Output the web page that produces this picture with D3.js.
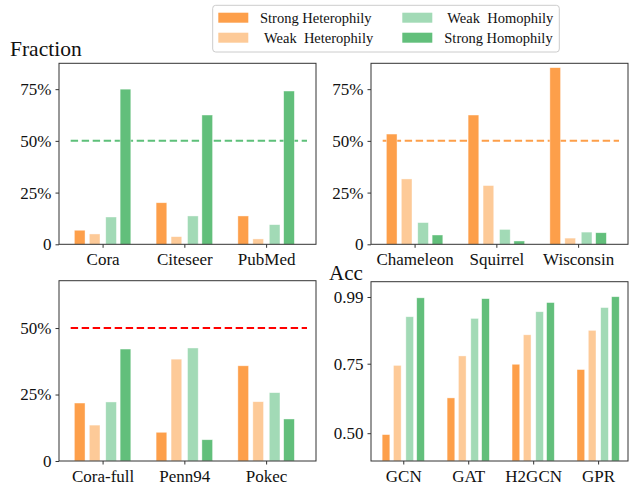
<!DOCTYPE html>
<html>
<head>
<meta charset="utf-8">
<script src="https://cdn.jsdelivr.net/npm/d3@7"></script>
<style>
  body { margin: 0; background: #fff; }
  svg { display: block; }
  text { font-family: "Liberation Serif", "Times New Roman", serif; fill: #111; }
</style>
</head>
<body>
<script>
var width = 629,
    height = 487;

// data (fractions / accuracies)
var series = ["Strong Heterophily", "Weak  Heterophily", "Weak  Homophily", "Strong Homophily"];
var colors = ["#fd9f4a", "#fdca98", "#a2dab6", "#62bf7b"];

var homoSets = ["Cora", "Citeseer", "PubMed"];
var homoVals = [
  [0.068, 0.050, 0.132, 0.750],
  [0.201, 0.037, 0.137, 0.625],
  [0.137, 0.026, 0.095, 0.741]
];

var heteroSets = ["Chameleon", "Squirrel", "Wisconsin"];
var heteroVals = [
  [0.533, 0.316, 0.105, 0.045],
  [0.625, 0.284, 0.072, 0.016],
  [0.854, 0.030, 0.059, 0.056]
];

var largeSets = ["Cora-full", "Penn94", "Pokec"];
var largeVals = [
  [0.218, 0.135, 0.222, 0.421],
  [0.108, 0.383, 0.425, 0.080],
  [0.358, 0.223, 0.257, 0.158]
];

var models = ["GCN", "GAT", "H2GCN", "GPR"];
var accVals = [
  [0.495, 0.744, 0.919, 0.987],
  [0.627, 0.778, 0.913, 0.984],
  [0.748, 0.854, 0.937, 0.970],
  [0.729, 0.870, 0.952, 0.991]
];

var pctTicks = [0, 0.25, 0.5, 0.75];
var pctTicks3 = [0, 0.25, 0.5];
var accTicks = [0.50, 0.75, 0.99];

var svg = d3.select("body").append("svg")
    .attr("width", width)
    .attr("height", height);

var offsets = [-0.28, -0.097, 0.104, 0.28];

function pctFmt(v) { return v === 0 ? "0" : Math.round(v * 100) + "%"; }

function panel(opt) {
  var x = d3.scaleLinear().domain(opt.xdom).range([opt.left, opt.right]);
  var y = d3.scaleLinear().domain(opt.ydom).range([opt.bottom, opt.top]);
  var g = svg.append("g");
  var bw = opt.bw;

  if (opt.ref != null) {
    g.append("line")
      .attr("x1", x(-0.39)).attr("x2", x(2.5))
      .attr("y1", y(opt.ref)).attr("y2", y(opt.ref))
      .attr("stroke", opt.refColor)
      .attr("stroke-width", 2)
      .attr("stroke-dasharray", "7.4,3.6");
  }

  opt.vals.forEach(function(row, i) {
    row.forEach(function(v, j) {
      var cx = x(i + offsets[j] * opt.spread);
      g.append("rect")
        .attr("x", cx - bw / 2)
        .attr("width", bw)
        .attr("y", y(v))
        .attr("height", y(opt.ydom[0]) - y(v))
        .attr("fill", colors[j])
        .attr("stroke", "#fff")
        .attr("stroke-opacity", 0.6)
        .attr("stroke-width", 0.7);
    });
  });

  // frame
  g.append("rect")
    .attr("x", opt.left).attr("y", opt.top)
    .attr("width", opt.right - opt.left).attr("height", opt.bottom - opt.top)
    .attr("fill", "none").attr("stroke", "#333").attr("stroke-width", 1);

  var ya = d3.axisLeft(y).tickValues(opt.yticks).tickFormat(opt.fmt).tickSize(3.5).tickPadding(4);
  var yg = g.append("g").attr("transform", "translate(" + opt.left + ",0)").call(ya);
  yg.select(".domain").remove();
  yg.attr("font-family", null);
  yg.selectAll("text").style("font-size", "17px").attr("fill", "#111");
  yg.selectAll("line").attr("stroke", "#333");

  var xa = d3.axisBottom(x).tickValues(d3.range(opt.cats.length))
    .tickFormat(function(d) { return opt.cats[d]; }).tickSize(3.5).tickPadding(5);
  var xg = g.append("g").attr("transform", "translate(0," + opt.bottom + ")").call(xa);
  xg.select(".domain").remove();
  xg.attr("font-family", null);
  xg.selectAll("text").style("font-size", "17px").attr("fill", "#111");
  xg.selectAll("line").attr("stroke", "#333");
}

panel({ left: 59, right: 316, top: 63.3, bottom: 244.3, xdom: [-0.533, 2.61], ydom: [0, 0.875],
  cats: homoSets, vals: homoVals, yticks: pctTicks, fmt: pctFmt, bw: 10.7, spread: 1,
  ref: 0.5, refColor: "#5ec07a" });

panel({ left: 371, right: 628, top: 63.3, bottom: 244.3, xdom: [-0.533, 2.61], ydom: [0, 0.875],
  cats: heteroSets, vals: heteroVals, yticks: pctTicks, fmt: pctFmt, bw: 10.7, spread: 1,
  ref: 0.5, refColor: "#fd9f4a" });

panel({ left: 59, right: 316, top: 280.7, bottom: 461, xdom: [-0.533, 2.61], ydom: [0, 0.678],
  cats: largeSets, vals: largeVals, yticks: pctTicks3, fmt: pctFmt, bw: 10.7, spread: 1,
  ref: 0.5, refColor: "#ff0000" });

panel({ left: 371, right: 628, top: 281.7, bottom: 461, xdom: [-0.497, 3.46], ydom: [0.40, 1.045],
  cats: models, vals: accVals, yticks: accTicks, fmt: d3.format(".2f"), bw: 7.7, spread: 0.95,
  ref: null });

svg.append("text").attr("x", 10).attr("y", 56).style("font-size", "21.5px").text("Fraction");
svg.append("text").attr("x", 329).attr("y", 280).style("font-size", "21px").text("Acc");

// legend
var lg = svg.append("g");
lg.append("rect")
  .attr("x", 212.7).attr("y", 5.3).attr("width", 346.6).attr("height", 46.7)
  .attr("rx", 3).attr("fill", "#fff").attr("stroke", "#ccc").attr("stroke-width", 1);

var legPos = [
  { px: 218.3, py: 12.7, tx: 260 },
  { px: 218.3, py: 32.7, tx: 264 },
  { px: 402.3, py: 12.7, tx: 447.3 },
  { px: 402.3, py: 32.7, tx: 444.3 }
];
series.forEach(function(s, i) {
  var p = legPos[i];
  lg.append("rect").attr("x", p.px).attr("y", p.py).attr("width", 30).attr("height", 10)
    .attr("fill", colors[i]);
  lg.append("text").attr("x", p.tx).attr("y", p.py + 5).attr("dy", "0.35em")
    .style("font-size", "14.5px").style("white-space", "pre").text(s);
});
</script>
</body>
</html>
